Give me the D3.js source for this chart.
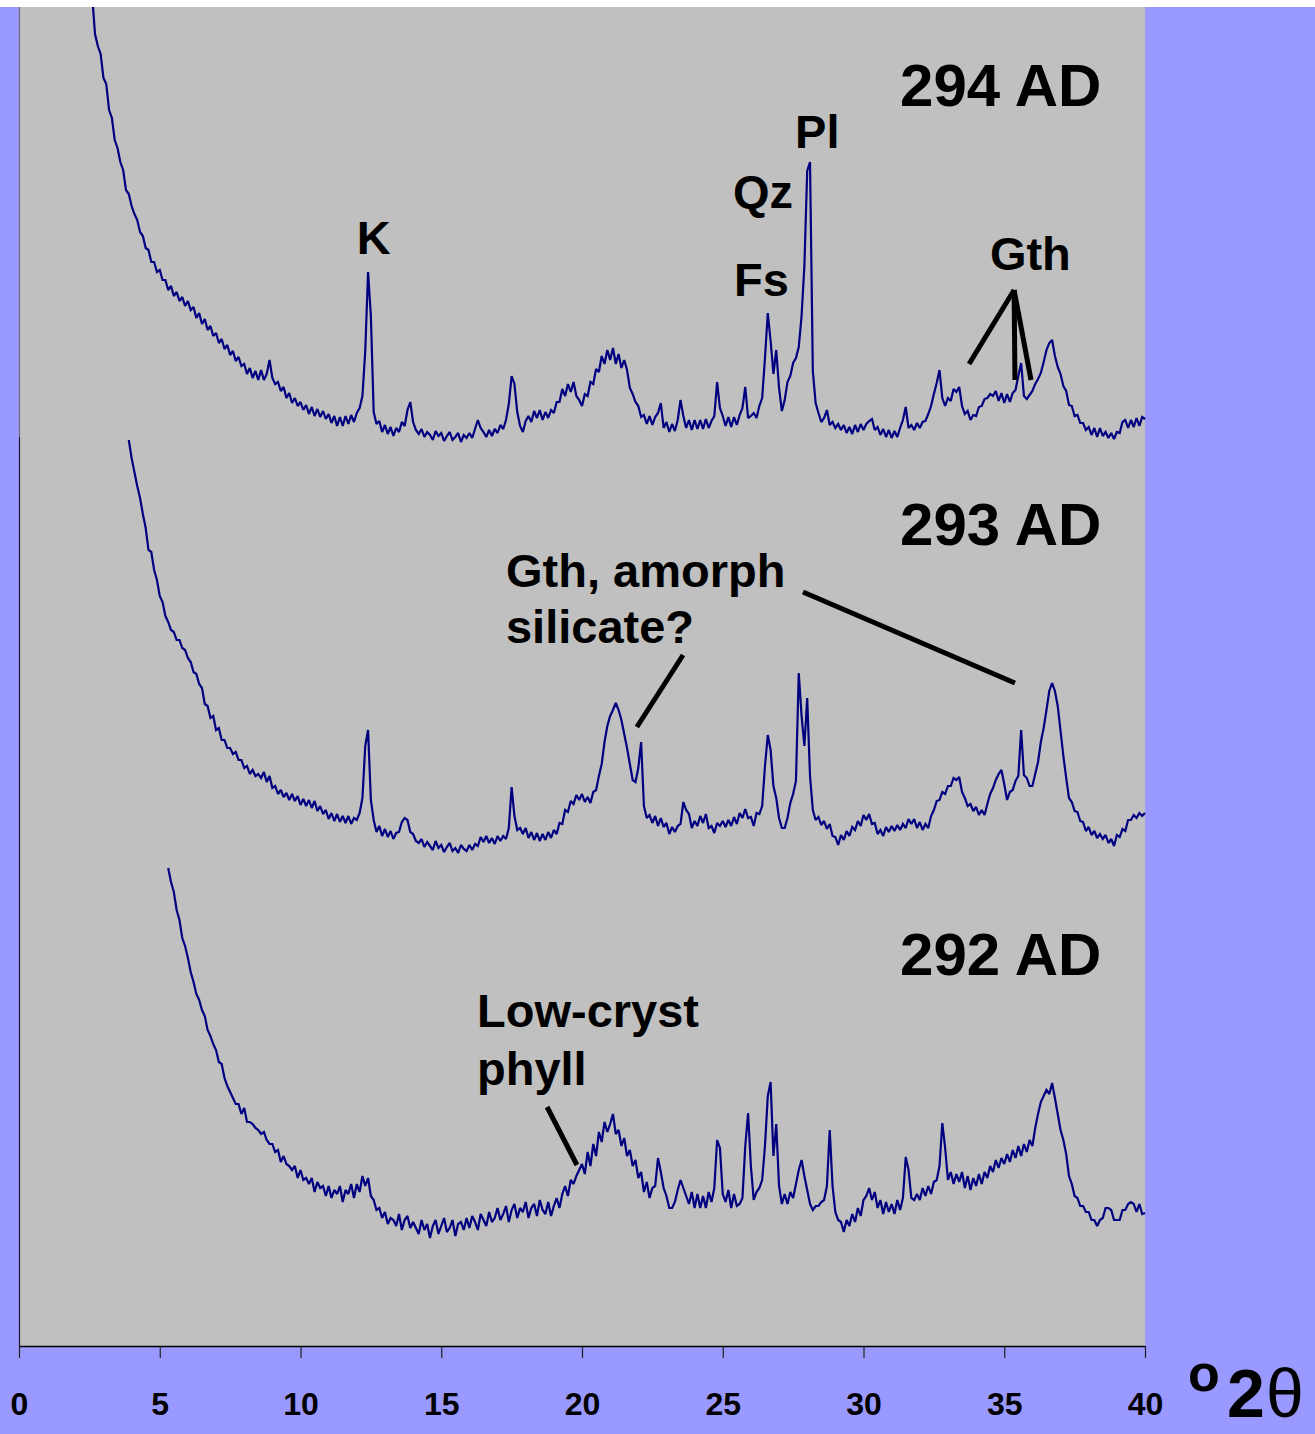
<!DOCTYPE html>
<html>
<head>
<meta charset="utf-8">
<script src="https://cdn.jsdelivr.net/npm/d3@7"></script>
<style>
  html, body { margin: 0; padding: 0; background: #9999ff; }
  svg { display: block; }
  text { font-family: "Liberation Sans", Arial, Helvetica, sans-serif; }
</style>
</head>
<body>
<svg id="chart" width="1315" height="1434"></svg>
<script>
// ---- Data -------------------------------------------------------------
// Stacked XRD patterns, intensity in offset counts. Each row holds one
// degree of 2-theta in 0.1 degree steps (.0 ... .9); null = not measured.
const twoThetaTicks = [0, 5, 10, 15, 20, 25, 30, 35, 40];

const firstDegree294 = 2;
const counts294 = [
  [null,null,null,null,null,1400,1350,1312,1300,1292],
  [1268,1262,1236,1228,1206,1198,1184,1176,1156,1152],
  [1140,1132,1126,1114,1110,1098,1096,1084,1084,1074],
  [1076,1066,1066,1056,1060,1050,1054,1045,1049,1040],
  [1045,1036,1039,1028,1033,1022,1027,1016,1020,1010],
  [1013,1003,1007,997,1001,991,995,985,989,980],
  [982,972,978,968,975,966,976,966,972,986],
  [968,962,964,955,959,948,953,943,948,940],
  [944,936,941,932,939,930,937,929,935,927],
  [932,923,930,920,929,920,930,922,931,924],
  [933,938,950,995,1074,1030,934,922,925,914],
  [921,912,919,910,918,914,924,920,936,944],
  [924,916,912,917,909,914,911,906,915,910],
  [913,905,910,914,906,909,913,904,911,908],
  [913,908,917,926,918,914,909,916,910,917],
  [913,921,917,926,942,970,962,934,920,914],
  [925,930,924,935,928,936,926,934,928,936],
  [933,944,944,957,950,962,954,964,950,946],
  [940,952,950,964,962,977,974,990,982,996],
  [986,998,982,992,978,986,976,958,952,944],
  [940,929,931,922,930,921,929,933,943,918],
  [924,914,922,915,926,946,930,918,926,916],
  [926,917,926,917,927,918,925,930,964,938],
  [930,920,929,919,929,921,931,938,959,928],
  [930,933,928,940,948,988,1033,1005,972,996],
  [958,935,946,964,970,983,988,999,1030,1080],
  [1175,1184,975,943,933,924,928,936,921,924],
  [918,922,916,921,913,919,912,921,914,922],
  [916,922,925,927,916,919,911,917,909,916],
  [908,915,909,918,926,939,918,921,916,923],
  [918,924,925,932,940,952,963,976,948,940],
  [948,945,957,954,959,940,932,935,926,931],
  [930,939,940,947,948,952,950,955,945,953],
  [943,952,944,953,956,970,983,950,947,951],
  [955,962,967,973,984,996,1003,1006,990,979],
  [972,960,955,941,940,930,931,923,923,916],
  [919,911,918,909,918,910,914,908,913,907],
  [914,913,924,926,918,926,919,928,920,929],
  [927]
];

const firstDegree293 = 3;
const counts293 = [
  [null,null,null,null,null,null,null,null,null,906],
  [888,874,860,848,832,818,796,794,776,766],
  [750,744,730,724,716,714,706,706,698,696],
  [688,684,674,672,662,658,642,640,628,630],
  [616,618,606,606,598,598,592,594,586,586],
  [578,580,572,576,570,572,568,574,564,570],
  [558,560,552,556,549,553,546,552,545,550],
  [541,547,540,546,538,545,535,540,532,536],
  [527,533,525,532,524,530,523,530,522,528],
  [526,533,548,600,616,546,526,514,520,510],
  [517,509,515,507,513,514,524,528,526,514],
  [512,505,503,507,499,504,500,496,505,498],
  [501,494,499,503,495,498,493,501,497,495],
  [501,496,502,500,509,504,510,503,508,502],
  [510,505,510,507,518,559,530,516,518,512],
  [518,508,514,506,513,505,512,506,514,508],
  [516,512,523,522,536,534,545,542,551,546],
  [552,544,549,543,554,556,570,582,604,620],
  [630,636,643,636,626,612,598,582,566,564],
  [578,604,540,528,531,523,530,520,528,519],
  [523,512,519,514,520,522,544,536,532,518],
  [525,520,530,523,532,518,520,513,523,520],
  [525,519,526,520,529,522,533,528,537,528],
  [529,520,533,532,540,580,611,596,560,548],
  [528,518,518,528,543,552,565,673,630,600],
  [648,570,536,526,529,521,525,517,522,510],
  [509,501,511,506,515,510,519,516,525,520],
  [531,526,532,522,523,512,516,510,519,514],
  [520,515,521,516,522,518,527,522,527,518],
  [524,516,522,518,530,536,545,546,554,552],
  [560,560,568,566,569,554,548,540,542,535],
  [539,531,536,531,542,552,558,566,572,576],
  [562,546,554,556,565,570,616,571,568,560],
  [560,572,584,604,618,636,655,663,655,640],
  [615,590,568,548,544,535,534,525,524,515],
  [519,511,515,508,512,507,511,503,507,500],
  [511,509,517,515,526,526,531,528,533,530],
  [533]
];

const firstDegree292 = 5;
const counts292 = [
  [null,null,null,478,464,454,436,426,408,400],
  [388,374,364,352,346,336,330,316,310,302],
  [296,284,282,268,260,254,248,242,242,232],
  [238,224,224,222,218,216,212,214,206,202],
  [202,194,196,184,190,182,180,176,180,168],
  [176,166,168,162,168,154,164,158,160,150],
  [160,148,156,152,160,144,156,152,162,148],
  [162,154,170,160,168,150,146,136,138,128],
  [134,122,128,126,120,132,116,126,130,118],
  [124,118,112,126,116,122,108,120,126,112],
  [120,128,114,118,126,110,122,124,116,128],
  [118,130,124,116,132,126,120,134,124,128],
  [138,126,132,140,124,136,142,128,138,134],
  [144,128,138,142,130,146,136,132,144,130],
  [140,148,138,152,160,150,166,162,170,176],
  [182,172,194,180,202,190,214,204,224,214],
  [222,232,212,216,200,208,190,196,180,186],
  [168,174,154,164,148,158,160,188,174,158],
  [150,138,138,144,156,166,158,150,142,154],
  [138,152,138,150,138,154,144,158,206,198],
  [152,144,156,138,152,140,142,148,200,233],
  [180,146,154,158,166,200,250,264,190,222],
  [160,142,152,142,154,148,162,176,186,170],
  [156,142,136,140,140,144,146,160,216,160],
  [134,126,124,114,126,120,132,124,138,130],
  [146,150,158,146,154,138,146,132,144,134],
  [142,132,146,136,148,189,176,148,146,152],
  [146,158,150,160,152,164,166,180,223,198],
  [166,174,162,172,164,174,158,170,156,168],
  [160,172,162,174,168,180,174,186,178,188],
  [182,192,184,196,188,200,190,202,194,206],
  [200,218,232,244,250,256,252,263,248,232],
  [216,206,192,170,162,150,148,140,140,134],
  [134,126,126,120,126,128,138,138,136,126],
  [126,126,136,136,142,144,142,134,142,132],
  [133]
];

// Sample names and where each is written (2-theta, offset counts)
const sampleLabels = [
  { text: "294 AD", at: [31.3, 1240] },
  { text: "293 AD", at: [31.3, 801] },
  { text: "292 AD", at: [31.3, 371] }
];

// Phase identifications: text lines and leader lines, in data space
const phaseLabels = [
  { text: "K",           at: [12.0, 1092] },
  { text: "Pl",          at: [27.57, 1198] },
  { text: "Qz",          at: [25.36, 1138] },
  { text: "Fs",          at: [25.4, 1050] },
  { text: "Gth",         at: [34.49, 1076] },
  { text: "Gth, amorph", at: [17.3, 759] },
  { text: "silicate?",   at: [17.3, 703] },
  { text: "Low-cryst",   at: [16.27, 319] },
  { text: "phyll",       at: [16.27, 261] }
];
const leaderLines = [
  [[35.35, 1056], [33.75, 982]],
  [[35.35, 1056], [35.38, 966]],
  [[35.35, 1056], [35.95, 966]],
  [[27.85, 754], [35.38, 663]],
  [[23.59, 691], [21.95, 619]],
  [[18.76, 239], [19.82, 181]]
];

// ---- Layout -----------------------------------------------------------
const svg = d3.select("#chart");
const frame = { left: 19, right: 1145, top: 7, bottom: 1346 };

const x = d3.scaleLinear().domain([0, 40]).range([frame.left, frame.right]);
const y = d3.scaleLinear().domain([0, 1339]).range([frame.bottom, frame.top]);

function toPoints(rows, firstDegree) {
  const pts = [];
  rows.forEach((row, i) => row.forEach((v, j) => {
    if (v != null) pts.push([firstDegree + i + j / 10, v]);
  }));
  return pts;
}

const patterns = [
  toPoints(counts294, firstDegree294),
  toPoints(counts293, firstDegree293),
  toPoints(counts292, firstDegree292)
];

// white strip along the top edge
svg.append("rect").attr("x", 0).attr("y", 0).attr("width", 1315).attr("height", frame.top).attr("fill", "#ffffff");

// plot area
svg.append("rect")
  .attr("x", frame.left).attr("y", frame.top)
  .attr("width", frame.right - frame.left).attr("height", frame.bottom - frame.top)
  .attr("fill", "#c0c0c0");

svg.append("defs").append("clipPath").attr("id", "plotClip")
  .append("rect")
  .attr("x", frame.left).attr("y", frame.top)
  .attr("width", frame.right - frame.left + 1).attr("height", frame.bottom - frame.top);

// vertical axis line
svg.append("line")
  .attr("x1", x(0) + 0.5).attr("x2", x(0) + 0.5)
  .attr("y1", y(1339)).attr("y2", y(909))
  .attr("stroke", "#6e6e78").attr("stroke-width", 1.2);
svg.append("line")
  .attr("x1", x(0) + 0.5).attr("x2", x(0) + 0.5)
  .attr("y1", y(909)).attr("y2", y(0))
  .attr("stroke", "#1a1a2e").attr("stroke-width", 1.2);

// diffraction traces
const line = d3.line().x(d => x(d[0])).y(d => y(d[1]));
svg.append("g").attr("clip-path", "url(#plotClip)")
  .selectAll("path").data(patterns).join("path")
  .attr("d", line)
  .attr("fill", "none")
  .attr("stroke", "#000080")
  .attr("stroke-width", 2.2)
  .attr("stroke-linejoin", "miter")
  .attr("stroke-miterlimit", 2);

// horizontal axis
const xAxis = d3.axisBottom(x).tickValues(twoThetaTicks).tickSize(12).tickPadding(34).tickSizeOuter(0);
const gx = svg.append("g").attr("transform", `translate(0,${frame.bottom})`).call(xAxis);
gx.select(".domain").attr("stroke", "#000").attr("stroke-width", 1.5);
gx.selectAll(".tick line").attr("stroke", "#222").attr("stroke-width", 1.2);
gx.selectAll(".tick text")
  .attr("fill", "#000")
  .style("font-size", "32px")
  .style("font-weight", "bold")
  .style("font-family", "'Liberation Sans', Arial, sans-serif");

// axis title: degrees 2-theta
const titleX = x(40);
svg.append("text").attr("x", titleX + 43).attr("y", 1391)
  .attr("font-size", 52).attr("font-weight", "bold").attr("fill", "#000").text("o");
svg.append("text").attr("x", titleX + 82).attr("y", 1417)
  .attr("font-size", 68).attr("font-weight", "bold").attr("fill", "#000").text("2");
svg.append("text").attr("x", titleX + 121).attr("y", 1417)
  .attr("font-size", 68).attr("font-weight", "normal").attr("fill", "#000").text("θ");

// sample names
svg.append("g").selectAll("text").data(sampleLabels).join("text")
  .attr("x", d => x(d.at[0])).attr("y", d => y(d.at[1]))
  .attr("font-size", 60).attr("font-weight", "bold").attr("fill", "#000")
  .text(d => d.text);

// phase leader lines and labels
svg.append("g").selectAll("line").data(leaderLines).join("line")
  .attr("x1", d => x(d[0][0])).attr("y1", d => y(d[0][1]))
  .attr("x2", d => x(d[1][0])).attr("y2", d => y(d[1][1]))
  .attr("stroke", "#000").attr("stroke-width", 5);

svg.append("g").selectAll("text").data(phaseLabels).join("text")
  .attr("x", d => x(d.at[0])).attr("y", d => y(d.at[1]))
  .attr("font-size", 47).attr("font-weight", "bold").attr("fill", "#000")
  .text(d => d.text);
</script>
</body>
</html>
